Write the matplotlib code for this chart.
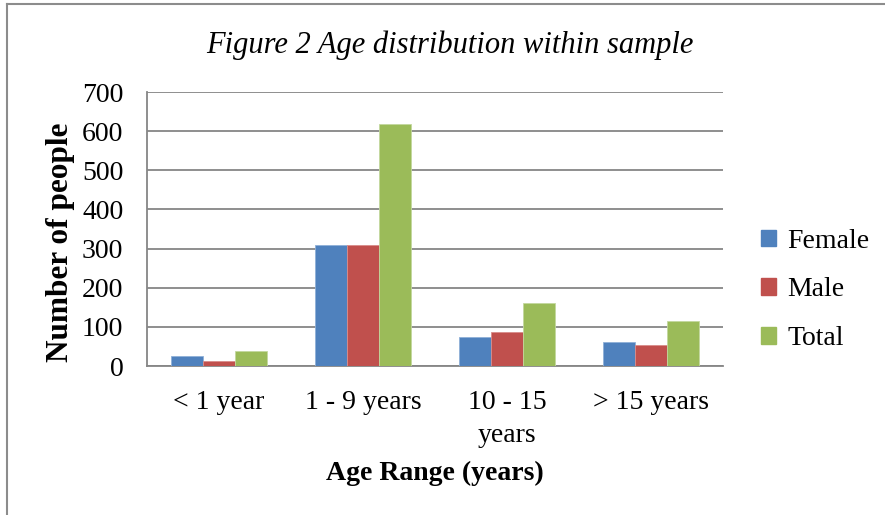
import matplotlib
matplotlib.use("Agg")
import matplotlib.pyplot as plt
from matplotlib.lines import Line2D
from matplotlib.patches import Patch
import numpy as np

plt.rcParams['font.family'] = ['Liberation Serif', 'DejaVu Serif']

categories = ['< 1 year', '1 - 9 years', '10 - 15\nyears', '> 15 years']
female = [25, 308, 73, 62]
male = [13, 310, 87, 53]
total = [38, 618, 160, 115]
series_names = ['Female', 'Male', 'Total']
colors = ['#4F81BD', '#C0504D', '#9BBB59']
edge_colors = ['#8FB0D8', '#D98C8A', '#C3D89E']

W, H = 885, 515
fig = plt.figure(figsize=(W / 100, H / 100), dpi=100)

# plot area in pixel terms
left, right, top, bottom = 147, 723, 92, 366
ax = fig.add_axes([left / W, 1 - bottom / H, (right - left) / W, (bottom - top) / H])

x = np.arange(len(categories))
width = 2 / 9  # three bars fill 2/3 of each category slot
for i, (vals, c, ec, name) in enumerate(zip([female, male, total], colors, edge_colors, series_names)):
    ax.bar(x + (i - 1) * width, vals, width, color=c, edgecolor=ec, linewidth=0.6,
           label=name, zorder=3)

ax.set_xlim(-0.5, len(categories) - 0.5)
ax.set_ylim(0, 700)
ax.set_yticks(range(0, 701, 100))
ax.yaxis.grid(True, color='#868686', linewidth=1.3, zorder=0)
ax.set_axisbelow(True)

for side in ['top', 'right']:
    ax.spines[side].set_visible(False)
for side in ['left', 'bottom']:
    ax.spines[side].set_color('#868686')
    ax.spines[side].set_linewidth(1.3)

ax.tick_params(axis='both', length=0, labelsize=20)
ax.tick_params(axis='y', pad=17)
ax.tick_params(axis='x', pad=17)
ax.set_xticks(x)
ax.set_xticklabels(categories, linespacing=1.45)

ax.set_ylabel('Number of people', fontsize=22.5, fontweight='bold')
ax.yaxis.set_label_coords(-0.125, 0.45)
ax.set_xlabel('Age Range (years)', fontsize=20, fontweight='bold', labelpad=9)

fig.text(450 / W, 1 - 45 / H, 'Figure 2 Age distribution within sample',
         fontsize=22, style='italic', ha='center', va='center')

handles = [Patch(facecolor=c, edgecolor=c) for c in colors]
fig.legend(handles, series_names, loc='center left', bbox_to_anchor=(747 / W, 1 - 290 / H),
           frameon=False, fontsize=20, handlelength=0.55, handleheight=0.55,
           handletextpad=0.4, labelspacing=0.85, borderpad=0)

# chart border (top and left edges visible)
border = '#8C8C8C'
fig.add_artist(Line2D([7 / W, 7 / W], [0, 1 - 4 / H], color=border, linewidth=1.5))
fig.add_artist(Line2D([7 / W, 1], [1 - 4 / H, 1 - 4 / H], color=border, linewidth=1.5))

fig.savefig('out.png', dpi=100)
